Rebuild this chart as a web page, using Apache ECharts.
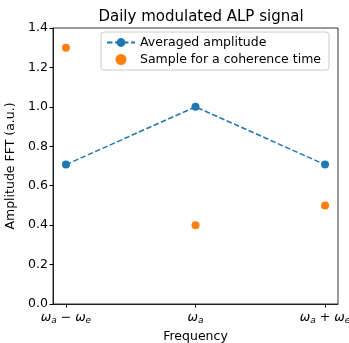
<!DOCTYPE html>
<html>
<head>
<meta charset="utf-8">
<script src="https://cdn.jsdelivr.net/npm/echarts@6/dist/echarts.min.js"></script>
<style>
  html, body { margin: 0; padding: 0; background: #fff; }
  #chart { width: 349px; height: 343px; }
</style>
</head>
<body>
<div id="chart"></div>
<script>
// frequency positions (sideband offset in units of omega_e)
const freqPos = [-1, 0, 1];
const freqLabels = {
  "-1": "{w|ω}{s|a}{m| − }{w|ω}{s|e}",
  "0": "{w|ω}{s|a}",
  "1": "{w|ω}{s|a}{m| + }{w|ω}{s|e}"
};
const averaged = [0.707, 1.0, 0.707];
const sample = [1.3, 0.4, 0.5];

const font = "DejaVu Sans";
let chart = echarts.init(document.getElementById("chart"));
let option = {
  backgroundColor: "#fff",
  animation: false,
  title: {
    text: "Daily modulated ALP signal",
    left: 196,
    textAlign: "center",
    top: 5,
    textStyle: { fontFamily: font, fontSize: 15, fontWeight: "normal", color: "#000" }
  },
  grid: {
    left: 53, right: 11, top: 28, bottom: 39,
    outerBoundsMode: "none",
    containLabel: false,
    show: true, borderColor: "#000", borderWidth: 0.8, backgroundColor: "transparent"
  },
  legend: {
    orient: "vertical",
    left: 101,
    top: 32,
    padding: [4, 8, 4, 5],
    itemGap: 4,
    itemWidth: 28,
    itemHeight: 11,
    borderColor: "#ccc",
    borderWidth: 1,
    borderRadius: 3,
    textStyle: { fontFamily: font, fontSize: 12.5, color: "#000" },
    data: ["Averaged amplitude", "Sample for a coherence time"]
  },
  xAxis: {
    type: "value",
    min: -1.1, max: 1.1, interval: 1,
    name: "Frequency",
    nameLocation: "middle",
    nameGap: 26,
    nameTextStyle: { fontFamily: font, fontSize: 12.5, color: "#000" },
    splitLine: { show: false },
    axisLine: { show: true, onZero: false, lineStyle: { color: "#000", width: 0.8 } },
    axisTick: { show: true, length: 3.5, lineStyle: { color: "#000" }, customValues: freqPos },
    axisLabel: {
      customValues: freqPos,
      margin: 6,
      formatter: v => freqLabels[String(Math.round(v))] || "",
      rich: {
        w: { fontFamily: font, fontStyle: "italic", fontSize: 12.5, color: "#000" },
        s: { fontFamily: font, fontStyle: "italic", fontSize: 9, color: "#000", padding: [6, 0, 0, 0] },
        m: { fontFamily: font, fontSize: 12.5, color: "#000" }
      }
    }
  },
  yAxis: {
    type: "value",
    min: 0, max: 1.4, interval: 0.2,
    name: "Amplitude FFT (a.u.)",
    nameLocation: "middle",
    nameGap: 30,
    nameTextStyle: { fontFamily: font, fontSize: 12.5, color: "#000" },
    splitLine: { show: false },
    axisLine: { show: true, onZero: false, lineStyle: { color: "#000", width: 0.8 } },
    axisTick: { show: true, length: 3.5, lineStyle: { color: "#000" } },
    axisLabel: {
      margin: 5,
      fontFamily: font, fontSize: 12.5, color: "#000",
      formatter: v => v.toFixed(1)
    }
  },
  series: [
    {
      name: "Averaged amplitude",
      type: "line",
      data: freqPos.map((x, i) => [x, averaged[i]]),
      symbol: "circle",
      symbolSize: 8,
      itemStyle: { color: "#1f77b4" },
      lineStyle: { color: "#1f77b4", width: 1.5, type: [5.5, 2.5] }
    },
    {
      name: "Sample for a coherence time",
      type: "scatter",
      data: freqPos.map((x, i) => [x, sample[i]]),
      symbol: "circle",
      symbolSize: 8,
      itemStyle: { color: "#ff7f0e", opacity: 1 }
    }
  ]
};
chart.setOption(option);
</script>
</body>
</html>
